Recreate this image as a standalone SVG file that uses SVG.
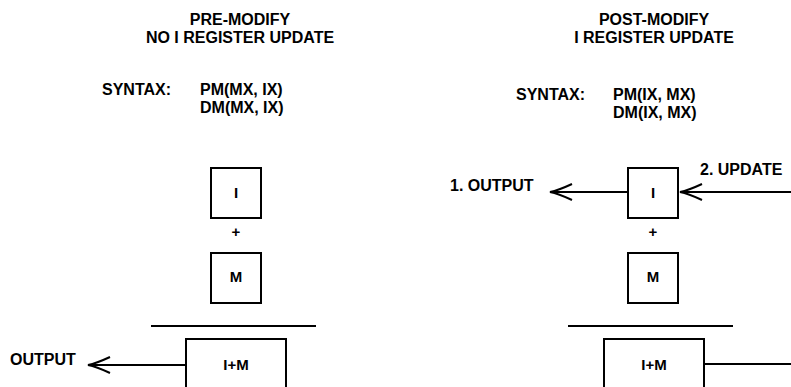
<svg xmlns="http://www.w3.org/2000/svg" width="791" height="387" viewBox="0 0 791 387">
<style>
text{font-family:"Liberation Sans",Arial,sans-serif;font-weight:bold;fill:#000}
.t{font-size:16px}
.c{text-anchor:middle}
.b{fill:#fff;stroke:#000;stroke-width:2}
.ln{stroke:#000;stroke-width:2;fill:none}
.lbl{font-size:15px;text-anchor:middle}
</style>
<defs>
<marker id="ah" markerUnits="userSpaceOnUse" markerWidth="30" markerHeight="24" viewBox="-24 -12 30 24" refX="0" refY="0" orient="auto" overflow="visible">
<path d="M-22,-8 Q-8,-1.5 0,0 Q-8,1.5 -22,8" fill="none" stroke="#000" stroke-width="2"/>
</marker>
</defs>
<g id="titles">
<text class="t c" x="240" y="25">PRE-MODIFY</text>
<text class="t c" x="240" y="43">NO I REGISTER UPDATE</text>
<text class="t" x="102" y="95">SYNTAX:</text>
<text class="t" x="200" y="95">PM(MX, IX)</text>
<text class="t" x="200" y="113">DM(MX, IX)</text>
<text class="t c" x="654" y="25">POST-MODIFY</text>
<text class="t c" x="654" y="43">I REGISTER UPDATE</text>
<text class="t" x="516" y="100">SYNTAX:</text>
<text class="t" x="613" y="100">PM(IX, MX)</text>
<text class="t" x="613" y="118">DM(IX, MX)</text>
</g>
<g id="connectors">
<line class="ln" x1="186" y1="365" x2="88" y2="365" marker-end="url(#ah)"/>
<line class="ln" x1="628" y1="192" x2="550" y2="192" marker-end="url(#ah)"/>
<line class="ln" x1="791" y1="192" x2="680" y2="192" marker-end="url(#ah)"/>
<line class="ln" x1="704" y1="364" x2="791" y2="364"/>
<line class="ln" x1="151" y1="326" x2="316" y2="326"/>
<line class="ln" x1="568" y1="326" x2="733" y2="326"/>
</g>
<g id="left-I">
<rect class="b" x="211" y="168" width="50" height="50"/>
<text class="lbl" x="236" y="198">I</text>
</g>
<text class="lbl" x="236" y="237">+</text>
<g id="left-M">
<rect class="b" x="211" y="253" width="50" height="50"/>
<text class="lbl" x="236" y="282">M</text>
</g>
<g id="left-IM">
<rect class="b" x="186" y="339" width="100" height="60"/>
<text class="lbl" x="236" y="370">I+M</text>
</g>
<text class="t" x="10" y="365">OUTPUT</text>
<g id="right-I">
<rect class="b" x="628" y="168" width="50" height="50"/>
<text class="lbl" x="653" y="198">I</text>
</g>
<text class="lbl" x="653" y="237">+</text>
<g id="right-M">
<rect class="b" x="628" y="253" width="50" height="50"/>
<text class="lbl" x="653" y="282">M</text>
</g>
<g id="right-IM">
<rect class="b" x="604" y="339" width="100" height="60"/>
<text class="lbl" x="654" y="370">I+M</text>
</g>
<text class="t" x="450" y="191">1. OUTPUT</text>
<text class="t" x="700" y="175">2. UPDATE</text>
</svg>
